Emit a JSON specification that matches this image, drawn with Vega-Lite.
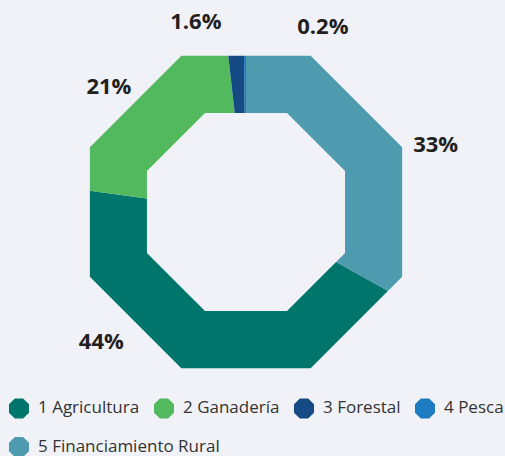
{
  "$schema": "https://vega.github.io/schema/vega-lite/v6.json",
  "width": 492,
  "height": 424,
  "autosize": {"type": "none"},
  "padding": {"left": 0, "top": 0, "right": 13, "bottom": 32},
  "background": "#f0f2f7",
  "config": {"view": {"stroke": null}, "font": "Open Sans"},
  "data": {
    "values": [
      {"categoria": "1 Agricultura", "valor": 44, "orden": 2, "etiqueta": "44%"},
      {"categoria": "2 Ganadería", "valor": 21, "orden": 3, "etiqueta": "21%"},
      {"categoria": "3 Forestal", "valor": 1.6, "orden": 4, "etiqueta": "1.6%"},
      {"categoria": "4 Pesca", "valor": 0.2, "orden": 5, "etiqueta": "0.2%"},
      {"categoria": "5 Financiamiento Rural", "valor": 33, "orden": 1, "etiqueta": "33%"}
    ]
  },
  "layer": [
    {
      "mark": {"type": "arc", "outerRadius": 174, "innerRadius": 95},
      "encoding": {
        "theta": {"field": "valor", "type": "quantitative", "stack": true},
        "order": {"field": "orden", "type": "quantitative"},
        "color": {
          "field": "categoria",
          "type": "nominal",
          "scale": {
            "domain": ["1 Agricultura", "2 Ganadería", "3 Forestal", "4 Pesca", "5 Financiamiento Rural"],
            "range": ["#00756b", "#52b95e", "#164a85", "#1c7bc1", "#4e9aae"]
          },
          "legend": {
            "title": null,
            "orient": "none",
            "legendX": 8,
            "legendY": 397,
            "direction": "horizontal",
            "values": ["1 Agricultura", "2 Ganadería", "3 Forestal", "4 Pesca"],
            "columnPadding": 13,
            "symbolType": "M-0.38268,-0.92388L-0.92388,-0.38268L-0.92388,0.38268L-0.38268,0.92388L0.38268,0.92388L0.92388,0.38268L0.92388,-0.38268L0.38268,-0.92388Z",
            "symbolSize": 470,
            "symbolStrokeWidth": 0,
            "labelFont": "Open Sans",
            "labelFontSize": 17,
            "labelColor": "#333333",
            "labelOffset": 8,
            "labelLimit": 300
          }
        }
      }
    },
    {
      "transform": [{"filter": "datum.orden == 1"}],
      "mark": {"type": "point", "filled": true, "opacity": 1, "size": 10, "strokeWidth": 0},
      "encoding": {
        "fill": {
          "field": "categoria",
          "type": "nominal",
          "scale": {"domain": ["5 Financiamiento Rural"], "range": ["#4e9aae"]},
          "legend": {
            "title": null,
            "orient": "none",
            "legendX": 8,
            "legendY": 436,
            "direction": "horizontal",
            "symbolType": "M-0.38268,-0.92388L-0.92388,-0.38268L-0.92388,0.38268L-0.38268,0.92388L0.38268,0.92388L0.92388,0.38268L0.92388,-0.38268L0.38268,-0.92388Z",
            "symbolSize": 470,
            "symbolStrokeWidth": 0,
            "symbolOpacity": 1,
            "labelFont": "Open Sans",
            "labelFontSize": 17,
            "labelColor": "#333333",
            "labelOffset": 8,
            "labelLimit": 300
          }
        }
      }
    },
    {
      "transform": [{"filter": "datum.orden == 1"}],
      "mark": {
        "type": "point",
        "filled": true,
        "opacity": 1,
        "fill": "#f0f2f7",
        "strokeWidth": 0,
        "size": 45967,
        "shape": "M-0.38268,-0.92388L-0.92388,-0.38268L-0.92388,0.38268L-0.38268,0.92388L0.38268,0.92388L0.92388,0.38268L0.92388,-0.38268L0.38268,-0.92388Z"
      },
      "encoding": {}
    },
    {
      "transform": [{"filter": "datum.orden == 1"}],
      "mark": {
        "type": "point",
        "filled": true,
        "opacity": 1,
        "fill": "#f0f2f7",
        "strokeWidth": 0,
        "size": 129600,
        "shape": "M-1,-1L1,-1L1,1L-1,1Z M-0.3593,-0.8674L-0.8674,-0.3593L-0.8674,0.3593L-0.3593,0.8674L0.3593,0.8674L0.8674,0.3593L0.8674,-0.3593L0.3593,-0.8674Z"
      },
      "encoding": {}
    },
    {
      "mark": {"type": "text", "radius": 198, "dx": 19, "dy": 33, "fontSize": 22, "fontWeight": "bold", "font": "Open Sans", "fill": "#231f20"},
      "encoding": {
        "theta": {"field": "valor", "type": "quantitative", "stack": true},
        "order": {"field": "orden", "type": "quantitative"},
        "text": {"condition": {"test": "datum.categoria === '5 Financiamiento Rural'", "field": "etiqueta"}, "value": ""}
      }
    },
    {
      "mark": {"type": "text", "radius": 170, "dx": -91, "dy": -31, "fontSize": 22, "fontWeight": "bold", "font": "Open Sans", "fill": "#231f20"},
      "encoding": {
        "theta": {"field": "valor", "type": "quantitative", "stack": true},
        "order": {"field": "orden", "type": "quantitative"},
        "text": {"condition": {"test": "datum.categoria === '1 Agricultura'", "field": "etiqueta"}, "value": ""}
      }
    },
    {
      "mark": {"type": "text", "radius": 186, "dx": -7, "dy": 8, "fontSize": 22, "fontWeight": "bold", "font": "Open Sans", "fill": "#231f20"},
      "encoding": {
        "theta": {"field": "valor", "type": "quantitative", "stack": true},
        "order": {"field": "orden", "type": "quantitative"},
        "text": {"condition": {"test": "datum.categoria === '2 Ganadería'", "field": "etiqueta"}, "value": ""}
      }
    },
    {
      "mark": {"type": "text", "radius": 193, "dx": -38, "dy": 3, "fontSize": 22, "fontWeight": "bold", "font": "Open Sans", "fill": "#231f20"},
      "encoding": {
        "theta": {"field": "valor", "type": "quantitative", "stack": true},
        "order": {"field": "orden", "type": "quantitative"},
        "text": {"condition": {"test": "datum.categoria === '3 Forestal'", "field": "etiqueta"}, "value": ""}
      }
    },
    {
      "mark": {"type": "text", "radius": 185, "dx": 78, "dy": 0, "fontSize": 22, "fontWeight": "bold", "font": "Open Sans", "fill": "#231f20"},
      "encoding": {
        "theta": {"field": "valor", "type": "quantitative", "stack": true},
        "order": {"field": "orden", "type": "quantitative"},
        "text": {"condition": {"test": "datum.categoria === '4 Pesca'", "field": "etiqueta"}, "value": ""}
      }
    }
  ]
}
